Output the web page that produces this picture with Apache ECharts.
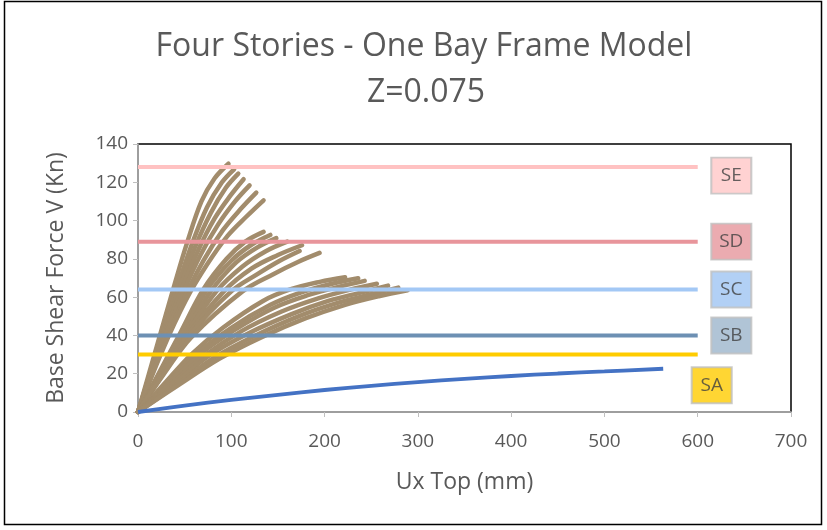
<!DOCTYPE html>
<html>
<head>
<meta charset="utf-8">
<script src="https://cdn.jsdelivr.net/npm/echarts@6/dist/echarts.min.js"></script>
<style>
html,body{margin:0;padding:0;background:#fff;}
#chart{width:827px;height:530px;}
</style>
</head>
<body>
<div id="chart"></div>
<script>
// ---------- data ----------
const titleText = 'Four Stories - One Bay Frame Model';
const subTitleText = 'Z=0.075';
const xAxisName = 'Ux Top (mm)';
const yAxisName = 'Base Shear Force V (Kn)';
const xTicks = [0, 100, 200, 300, 400, 500, 600, 700];
const yTicks = [0, 20, 40, 60, 80, 100, 120, 140];

// site class levels (horizontal lines)
const levelNames = ['SE', 'SD', 'SC', 'SB', 'SA'];
const levelValues = [128, 89, 64, 40, 30];
const levelXRange = [0, 600];
// label box anchor points (data coords)
const labelX = [636, 636, 636, 636, 615];
const labelY = [123.5, 89, 64, 40, 14];

// blue pushover curve
const blueCurve = [[0,0],[50,3.3],[100,6.3],[150,9],[200,11.5],[250,13.7],[300,15.6],[350,17.3],[400,18.8],[450,20.1],[500,21.2],[563,22.6]];

// brown curves, group 1 (highest)
const group1 = [
  [[0,0],[20,34],[40,68],[53,89],[68,110],[82,122],[97,129.7]],
  [[0,0],[21,33],[42,65],[58,88],[74,107],[90,120],[103,126.8]],
  [[0,0],[22,33],[44,64],[61,86],[78,104],[94,117],[107.5,124.5]],
  [[0,0],[23,33],[46,63],[64,84],[82,101],[99,113],[113.2,121.6]],
  [[0,0],[24,33],[48,62],[67,82],[86,98],[104,110],[119.6,118.4]],
  [[0,0],[25,32],[50,60],[70,79],[91,95],[110,106],[126.8,114.6]],
  [[0,0],[26,32],[52,59],[74,77],[96,92],[116,102],[134.6,110.6]]
];
// group 2 (middle)
const group2 = [
  [[0,0],[22,20],[45,41],[70,64],[95,80],[115,89],[134.6,94.1]],
  [[0,0],[23,20],[47,41],[74,64],[100,79],[122,87.5],[141.8,92.5]],
  [[0,0],[24,20],[49,40],[78,63],[105,78],[128,86],[148.2,90.8]],
  [[0,0],[25,20],[51,40],[84,63],[112,76],[137,84],[160,89]],
  [[0,0],[26,20],[53,40],[92,63],[122,75],[150,82],[175.8,87.1]],
  [[0,0],[27,20],[55,40],[100,63],[128,72],[152,79],[173.2,84.1]],
  [[0,0],[28,20],[57,39],[112,63],[145,72],[172,78.5],[194.6,83.1]]
];
// group 3 (lowest brown)
const group3 = [
  [[0,0],[25,13],[57,30],[91,44],[134,58],[163,64],[195,68],[222,70.4]],
  [[0,0],[28,13],[62,30],[100,44],[142,56],[175,62.5],[208,67],[236,69.9]],
  [[0,0],[30,13],[65,29.5],[104,43],[146,54.5],[182,61],[216,65.5],[243,68.5]],
  [[0,0],[32,13],[70,29],[110,42],[154,52.5],[194,59.5],[228,64],[256,67]],
  [[0,0],[35,13],[75,29],[118,41],[164,51],[204,58],[240,62.5],[268,66]],
  [[0,0],[38,13],[82,28.5],[126,40],[172,50],[214,57],[250,61.5],[279,65]],
  [[0,0],[40,13],[88,28],[132,39],[180,49],[222,56],[258,60.5],[289,63.6]]
];

// ---------- style ----------
const brown = '#a28c6c';
const levelLineColors = ['#ffc2c2', '#e8959b', '#a3c8f5', '#6d90b3', '#ffcc00'];
const levelBoxColors  = ['#ffc7c7', '#e6969c', '#9fc4f2', '#9cb5cc', '#ffcc00'];
const textColor = '#595959';
const fontFamily = '"Open Sans", "Liberation Sans", sans-serif';

const series = [];
[group1, group2, group3].forEach(function (g) {
  g.forEach(function (curve) {
    series.push({
      type: 'line', data: curve, smooth: 0.35,
      showSymbol: false, symbol: 'none',
      lineStyle: { color: brown, width: 4.5, cap: 'round', join: 'round' }, z: 2, silent: true
    });
  });
});
series.push({
  type: 'line', data: blueCurve, smooth: 0.4, showSymbol: false, symbol: 'none',
  lineStyle: { color: '#4472c4', width: 3.8 }, z: 3, silent: true
});
levelNames.forEach(function (n, i) {
  series.push({
    type: 'line', name: n,
    data: levelXRange.map(function (x) { return [x, levelValues[i]]; }),
    showSymbol: false, symbol: 'none',
    lineStyle: { color: levelLineColors[i], width: 4 }, z: 4, silent: true
  });
});
series.push({
  type: 'scatter', z: 6, silent: true,
  symbol: 'rect', symbolSize: [40, 36],
  data: levelNames.map(function (n, i) {
    return {
      value: [labelX[i], labelY[i]], name: n,
      itemStyle: { color: levelBoxColors[i], borderColor: '#bfbfbf', borderWidth: 2 }
    };
  }),
  label: {
    show: true, position: 'inside', formatter: '{b}',
    color: '#404040', fontSize: 19, fontFamily: fontFamily
  }
});

const chart = echarts.init(document.getElementById('chart'), null, { renderer: 'canvas' });
chart.setOption({
  animation: false,
  backgroundColor: '#fff',
  title: [{
    text: titleText, left: 419, top: 26, textAlign: 'center',
    textStyle: { color: textColor, fontSize: 32, fontWeight: 'normal', fontFamily: fontFamily }
  }, {
    text: subTitleText, left: 421, top: 72, textAlign: 'center',
    textStyle: { color: textColor, fontSize: 32, fontWeight: 'normal', fontFamily: fontFamily }
  }],
  graphic: [{
    type: 'rect', shape: { x: 4.5, y: 1.5, width: 817, height: 523 },
    style: { fill: 'none', stroke: '#000', lineWidth: 1.5 }, silent: true, z: 100
  }],
  grid: {
    left: 138, right: 36, top: 144, bottom: 118,
    show: true, borderColor: '#000', borderWidth: 1.5, backgroundColor: '#fff'
  },
  xAxis: {
    type: 'value', min: xTicks[0], max: xTicks[xTicks.length - 1], interval: 100,
    name: xAxisName, nameLocation: 'middle', nameGap: 59,
    nameTextStyle: { color: textColor, fontSize: 23, fontFamily: fontFamily },
    axisLine: { show: true, onZero: false, lineStyle: { color: '#bfbfbf', width: 1.5 } },
    axisTick: { show: true, inside: false, length: 5, lineStyle: { color: '#bfbfbf' } },
    axisLabel: { color: textColor, fontSize: 19, margin: 20, fontFamily: fontFamily },
    splitLine: { show: false }
  },
  yAxis: {
    type: 'value', min: yTicks[0], max: yTicks[yTicks.length - 1], interval: 20,
    name: yAxisName, nameLocation: 'middle', nameGap: 70,
    nameTextStyle: { color: textColor, fontSize: 23, fontFamily: fontFamily },
    axisLine: { show: true, onZero: false, lineStyle: { color: '#bfbfbf', width: 1.5 } },
    axisTick: { show: true, inside: false, length: 5, lineStyle: { color: '#bfbfbf' } },
    axisLabel: { color: textColor, fontSize: 19, margin: 10, fontFamily: fontFamily },
    splitLine: { show: false }
  },
  series: series
});
</script>
</body>
</html>
